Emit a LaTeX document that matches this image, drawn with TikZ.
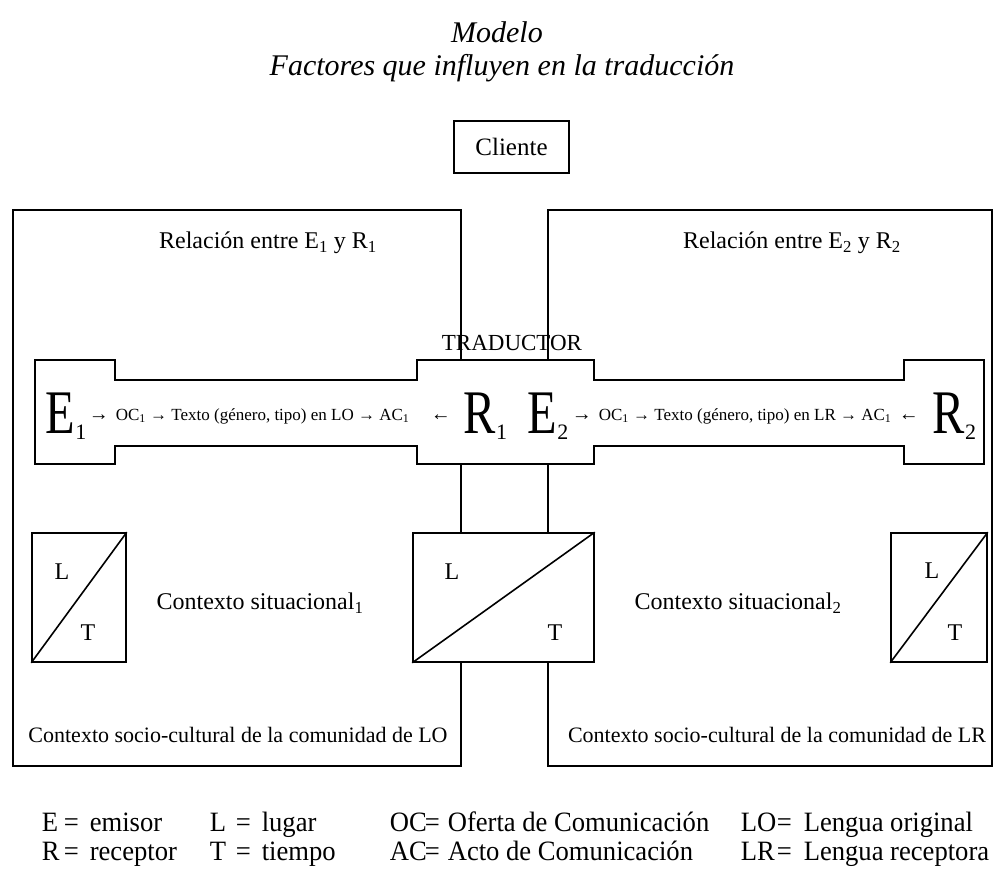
\documentclass[tikz,border=0pt]{standalone}
\usepackage{fontspec}
\usepackage{graphicx}
\setmainfont{Liberation Serif}
\newcommand\fsz[1]{\fontsize{#1}{#1}\selectfont}
\newcommand\BigLet[2]{\scalebox{0.78}[1]{\fsz{62}#1}\raisebox{-6pt}{\fsz{22}#2}}
\newcommand\legtxt[1]{\scalebox{0.95}[1]{\fsz{28}#1}}
\begin{document}
\begin{tikzpicture}[x=1pt,y=-1pt,line width=1.6pt,line join=miter,
  txt/.style={inner sep=0pt,font=\fsz{24}},
  small/.style={inner sep=0pt,font=\fsz{17},anchor=base west},
  bigl/.style={inner sep=0pt,anchor=base west},
  ltbox/.style={draw,inner sep=0pt,minimum width=#1,minimum height=129},
  leg/.style={inner sep=0pt,anchor=base west},
  link/.style={line width=1.6pt}]
\useasboundingbox (0,0) rectangle (995,874);

% title
\node[inner sep=0pt,font=\fsz{30}\itshape] (t1) at (497,32) {Modelo};
\node[inner sep=0pt,font=\fsz{30}\itshape] (t2) at (502,68) {Factores que influyen en la traducción};

% client
\node[draw,minimum width=115,minimum height=52,inner sep=0pt,font=\fsz{25}] (cli) at (511.5,147) {Cliente};

% big context boxes
\draw (461,360) -- (461,210) -- (13,210) -- (13,766) -- (461,766) -- (461,662);
\draw (548,360) -- (548,210) -- (992,210) -- (992,766) -- (548,766) -- (548,662);

% communication band
\draw (35,360) -- (115,360) -- (115,380) -- (417,380) -- (417,360) -- (594,360)
  -- (594,380) -- (904,380) -- (904,360) -- (984,360) -- (984,464) -- (904,464)
  -- (904,446) -- (594,446) -- (594,464) -- (417,464) -- (417,446) -- (115,446)
  -- (115,464) -- (35,464) -- cycle;
\coordinate (bL) at (461,464);
\coordinate (bR) at (548,464);

% headings
\node[txt] (rel1) at (268,243) {Relación entre E\textsubscript{1} y R\textsubscript{1}};
\node[txt] (rel2) at (792,243) {Relación entre E\textsubscript{2} y R\textsubscript{2}};
\node[inner sep=0pt,font=\fsz{23}] (trad) at (512,343) {TRADUCTOR};

% band texts
\node[bigl] (e1) at (45,433) {\BigLet{E}{1}};
\node[small,font=\fsz{20}] (a1) at (88,420) {→};
\node[small] (tx1) at (115,420) {OC\textsubscript{1} → Texto (género, tipo) en LO → AC\textsubscript{1}};
\node[small,font=\fsz{20}] (b1) at (430,420) {←};
\node[bigl] (r1) at (463,433) {\BigLet{R}{1}};
\node[bigl] (e2) at (527,433) {\BigLet{E}{2}};
\node[small,font=\fsz{20}] (a2) at (571,420) {→};
\node[small] (tx2) at (598,420) {OC\textsubscript{1} → Texto (género, tipo) en LR → AC\textsubscript{1}};
\node[small,font=\fsz{20}] (b2) at (898,420) {←};
\node[bigl] (r2) at (932,433) {\BigLet{R}{2}};

% L/T boxes
\node[ltbox=94] (lt1) at (79,597.5) {};
\node[ltbox=181] (lt2) at (503.5,597.5) {};
\node[ltbox=96] (lt3) at (939,597.5) {};
\draw (lt1.south west) -- (lt1.north east);
\draw (lt2.south west) -- (lt2.north east);
\draw (lt3.south west) -- (lt3.north east);
\node[txt] (l1) at (62,572) {L};
\node[txt] (tt1) at (88,633) {T};
\node[txt] (l2) at (452,572) {L};
\node[txt] (tt2) at (555,633) {T};
\node[txt] (l3) at (932,571) {L};
\node[txt] (tt3) at (955,633) {T};

% connectors
\draw[link] (bL) -- (bL |- lt2.north);
\draw[link] (bR) -- (bR |- lt2.north);
\coordinate (dL) at (461,766);
\coordinate (dR) at (548,766);
\draw[link] (dL |- lt2.south) -- (dL);
\draw[link] (dR |- lt2.south) -- (dR);

% context labels
\node[txt] (cs1) at (260,603) {Contexto situacional\textsubscript{1}};
\node[txt] (cs2) at (738,603) {Contexto situacional\textsubscript{2}};
\node[txt,font=\fsz{22}] (sc1) at (238,735) {Contexto socio-cultural de la comunidad de LO};
\node[txt,font=\fsz{22}] (sc2) at (777,735) {Contexto socio-cultural de la comunidad de LR};

% legend
\node[leg] (g1) at (41,831) {\legtxt{E}};   \node[leg] (g2) at (63,831) {\legtxt{=}};  \node[leg] (g3) at (89,831) {\legtxt{emisor}};
\node[leg] (g4) at (209,831) {\legtxt{L}};  \node[leg] (g5) at (235,831) {\legtxt{=}}; \node[leg] (g6) at (261,831) {\legtxt{lugar}};
\node[leg] (g7) at (389,831) {\legtxt{OC}}; \node[leg] (g8) at (424,831) {\legtxt{=}}; \node[leg] (g9) at (447,831) {\legtxt{Oferta de Comunicación}};
\node[leg] (g10) at (740,831) {\legtxt{LO}}; \node[leg] (g11) at (776,831) {\legtxt{=}}; \node[leg] (g12) at (803,831) {\legtxt{Lengua original}};
\node[leg] (h1) at (41,860) {\legtxt{R}};   \node[leg] (h2) at (63,860) {\legtxt{=}};  \node[leg] (h3) at (89,860) {\legtxt{receptor}};
\node[leg] (h4) at (209,860) {\legtxt{T}};  \node[leg] (h5) at (235,860) {\legtxt{=}}; \node[leg] (h6) at (261,860) {\legtxt{tiempo}};
\node[leg] (h7) at (389,860) {\legtxt{AC}}; \node[leg] (h8) at (424,860) {\legtxt{=}}; \node[leg] (h9) at (447,860) {\legtxt{Acto de Comunicación}};
\node[leg] (h10) at (740,860) {\legtxt{LR}}; \node[leg] (h11) at (776,860) {\legtxt{=}}; \node[leg] (h12) at (803,860) {\legtxt{Lengua receptora}};
\end{tikzpicture}
\end{document}
